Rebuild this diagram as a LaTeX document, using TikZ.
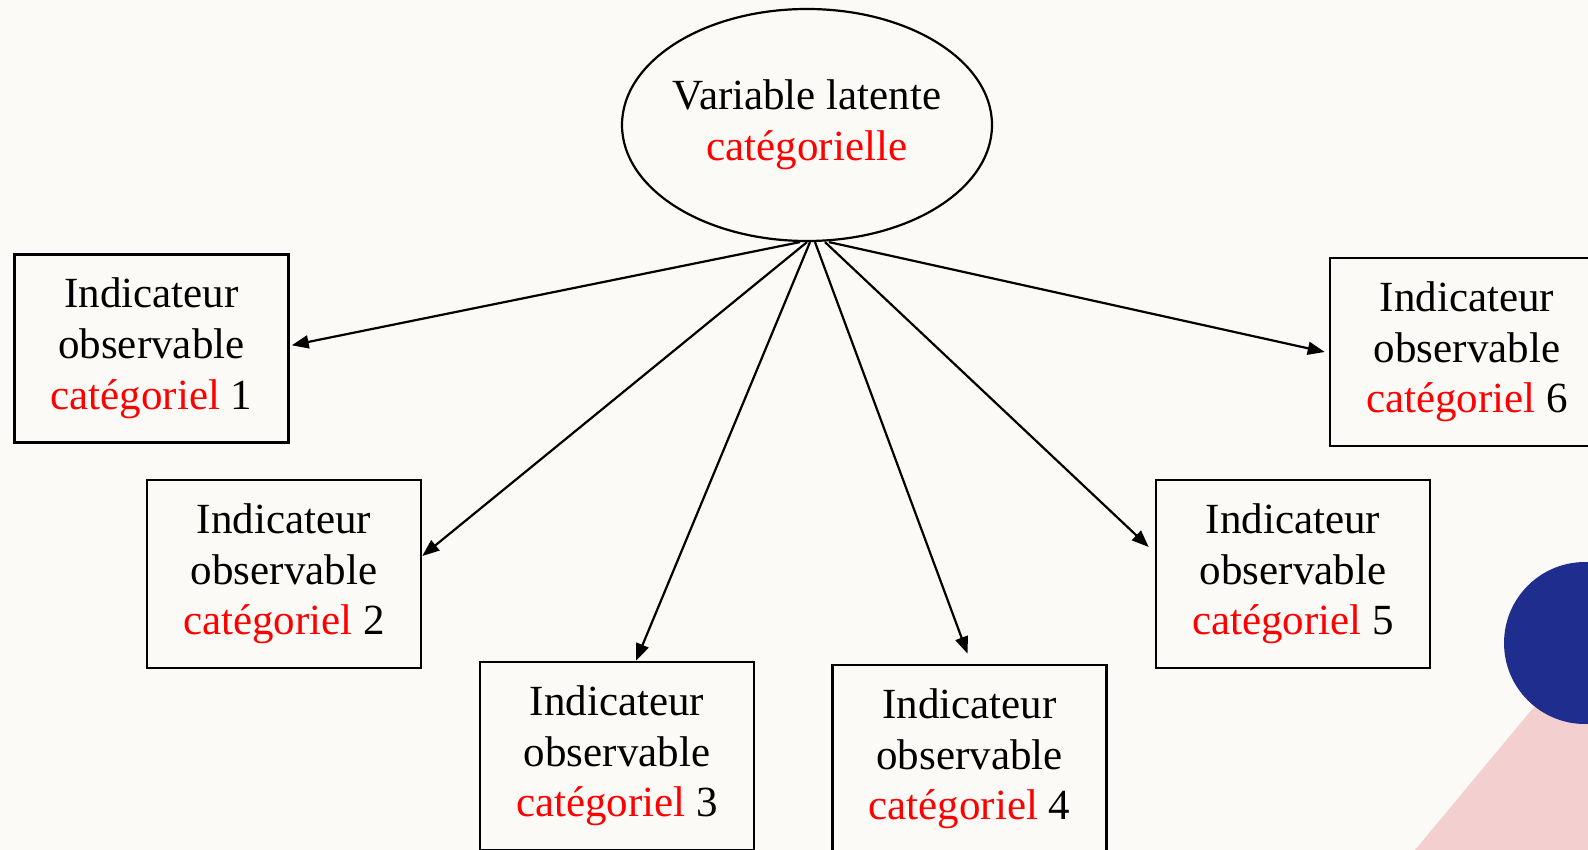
\documentclass[tikz,border=0pt]{standalone}
\usepackage{fontspec}
\setmainfont{Liberation Serif}
\usepackage{xcolor}
\usetikzlibrary{shapes, arrows.meta, positioning}
\definecolor{fond}{HTML}{FCFAF6}
\definecolor{bleu}{HTML}{1F2D8E}
\definecolor{rose}{HTML}{F4CFD0}
\newcommand{\catrouge}{\textcolor{red}{catégoriel}}

\begin{document}
\begin{tikzpicture}[x=0.5pt, y=-0.5pt,
		indic/.style={draw, line width=1.3pt, minimum width=137pt, minimum height=94pt, align=center, inner sep=0pt, font=\fontsize{21.5}{25.3}\selectfont},
		fleche/.style={-{Triangle[length=8.5pt, width=6.5pt]}, line width=1.1pt}]
				\fill[fond] (0,0) rectangle (1588,850);
				\clip (0,0) rectangle (1588,850);
				
				\fill[rose] (1415,850) -- (1588,642) -- (1588,850) -- cycle;
				\fill[bleu] (1585,643) circle (40.5pt);
				
				\node[draw, ellipse, line width=1.1pt, minimum width=185pt, minimum height=116pt, inner xsep=-3pt, inner ysep=0pt, align=center, font=\fontsize{21.5}{25.3}\selectfont] (lat) at (807,125) {Variable latente\\\textcolor{red}{catégorielle}};
				
				\node[indic] (ind1) at (151.4,348.3) {Indicateur\\observable\\\catrouge{} 1};
				\node[indic] (ind2) at (284,574) {Indicateur\\observable\\\catrouge{} 2};
				\node[indic] (ind3) at (617,756) {Indicateur\\observable\\\catrouge{} 3};
				\node[indic] (ind4) at (969.5,759) {Indicateur\\observable\\\catrouge{} 4};
				\node[indic] (ind5) at (1293,574) {Indicateur\\observable\\\catrouge{} 5};
				\node[indic] (ind6) at (1467,352) {Indicateur\\observable\\\catrouge{} 6};
				
				\draw[fleche] ([xshift=-3.5pt]lat.south) -- ([xshift=1pt, yshift=1.5pt]ind1.east);
				\draw[fleche] (lat.south) -- ([yshift=9pt]ind2.east);
				\draw[fleche] ([xshift=1.5pt]lat.south) -- ([xshift=9.5pt]ind3.north);
				\draw[fleche] ([xshift=4pt]lat.south) -- ([xshift=-1pt, yshift=5pt]ind4.north);
				\draw[fleche] ([xshift=9pt]lat.south) -- ([xshift=-3pt, yshift=13.5pt]ind5.west);
				\draw[fleche] ([xshift=11pt]lat.south) -- ([xshift=-2pt]ind6.west);
			\end{tikzpicture}
\end{document}
